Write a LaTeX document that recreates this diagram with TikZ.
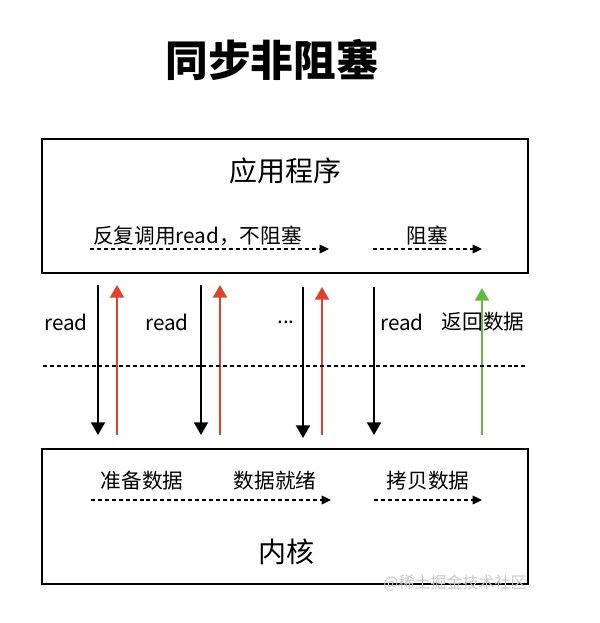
\documentclass[tikz,border=0pt]{standalone}
\usepackage{fontspec}
\setmainfont{Noto Sans CJK SC}
\usetikzlibrary{arrows.meta,positioning}
\definecolor{retred}{RGB}{221,66,44}
\definecolor{retgreen}{RGB}{98,184,64}

\begin{document}
\begin{tikzpicture}[x=0.75pt, y=-0.75pt, every node/.style={font=\fontsize{15.5}{18}\selectfont, inner sep=0pt}, box/.style={draw, line width=1.6pt, minimum width=364.5pt, minimum height=101pt}, boxtitle/.style={font=\fontsize{21}{24}\selectfont}, flow/.style={-{Triangle[length=7pt,width=6.5pt]}, dash pattern=on 3pt off 2.2pt, line width=0.95pt}, call/.style={-{Triangle[length=9.5pt,width=10.5pt]}, line width=1.5pt}, ret/.style={call, draw=retred, -{Triangle[length=9.5pt,width=10.5pt,fill=retred]}}, done/.style={call, draw=retgreen, -{Triangle[length=9.5pt,width=10.5pt,fill=retgreen]}}]
\useasboundingbox (0,0) rectangle (599,623);
\node[font=\bfseries\fontsize{32}{36}\selectfont] (title) at (272,60) {同步非阻塞};
\node[box] (app) at (285,206) {};
\node[box] (kernel) at (285,516.5) {};
\node[boxtitle] (appname) at (285,171) {应用程序};
\node[boxtitle] (kername) at (286,552) {内核};
% application side
\node[anchor=west] (poll) at (93,236) {反复调用read，不阻塞};
\node (block) at (427,236) {阻塞};
\coordinate (p1) at (90,249); \coordinate (p2) at (329,249);
\coordinate (b1) at (373,249); \coordinate (b2) at (482,249);
\draw[flow] (p1)--(p2); \draw[flow] (b1)--(b2);
% kernel side
\node (prep) at (142,481) {准备数据};
\node (ready) at (275,481) {数据就绪};
\node (copy) at (428,481) {拷贝数据};
\coordinate (k1) at (91,500); \coordinate (k2) at (331,500);
\coordinate (c1) at (374,500); \coordinate (c2) at (482,500);
\draw[flow] (k1)--(k2); \draw[flow] (c1)--(c2);
% system calls
\foreach \x/\t/\b/\n in {98/285/435/r1, 201/285/435/r2, 303/287/438/r3, 374/287/435/r4}
  {\coordinate (\n a) at (\x,\t); \coordinate (\n b) at (\x,\b);}
\foreach \x/\t/\n in {117/285/e1, 220/285/e2, 322/287/e3, 482/288/ok}
  {\coordinate (\n a) at (\x,435); \coordinate (\n b) at (\x,\t);}
\draw[call] (r1a)--(r1b); \draw[call] (r2a)--(r2b); \draw[call] (r3a)--(r3b); \draw[call] (r4a)--(r4b);
\draw[ret] (e1a)--(e1b); \draw[ret] (e2a)--(e2b); \draw[ret] (e3a)--(e3b);
\node (read1) at (66,322) {read};
\node (read2) at (167,322) {read};
\node (more) at (286,322) {...};
\node (read3) at (402,322) {read};
\node (back) at (483,322) {返回数据};
\draw[done] (oka)--(okb);
\coordinate (u1) at (43,366); \coordinate (u2) at (528,366);
\draw[dash pattern=on 3pt off 2.2pt, line width=0.95pt] (u1)--(u2);
\node[text=black!22, font=\fontsize{12}{14}\selectfont] (mark) at (455,583) {@稀土掘金技术社区};
\end{tikzpicture}
\end{document}
